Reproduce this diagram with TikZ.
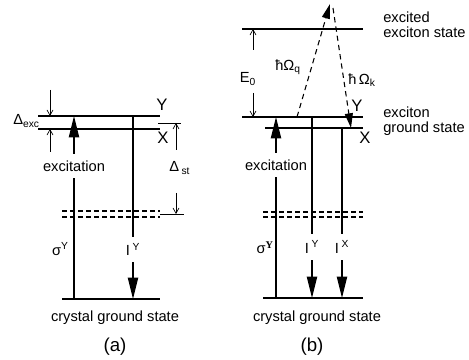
\documentclass[tikz,border=0pt]{standalone}
\usepackage{fontspec}
\setmainfont{Liberation Sans}
\newfontfamily\serifbold{Liberation Serif}
\usetikzlibrary{arrows.meta, positioning}

\begin{document}
\begin{tikzpicture}[x=0.75pt, y=-0.75pt,
    font=\fontsize{11}{11.5}\selectfont,
    level/.style={line width=1pt},
    virtual/.style={line width=0.8pt, dash pattern=on 3.5pt off 2.5pt},
    trans/.style={line width=1.4pt, -{Triangle[length=16pt,width=7.5pt]}},
    gap/.style={fill=white, inner xsep=1pt, inner ysep=5pt},
    marker/.style={line width=0.5pt, -{Straight Barb[length=4pt,width=4.5pt]}},
    tick/.style={line width=0.6pt},
    jump/.style={line width=0.8pt, dash pattern=on 4pt off 3pt, -{Triangle[length=11pt,width=6pt]}},
    lvl/.style={font=\fontsize{12.5}{13}\selectfont, inner sep=0pt}]

\useasboundingbox (0,0) rectangle (469,360);

% ---------- (a) ----------
\coordinate (aYL) at (38,116);   \coordinate (aYR) at (160,116);
\coordinate (aXL) at (38,129);   \coordinate (aXR) at (160,129);
\coordinate (aD1L) at (62,211);  \coordinate (aD1R) at (160,211);
\coordinate (aD2L) at (62,217);  \coordinate (aD2R) at (160,217);
\coordinate (aGL) at (62,299);   \coordinate (aGR) at (160,299);

\draw[level] (aYL) -- (aYR);
\draw[level] (aXL) -- (aXR);
\draw[virtual] (aD1L) -- (aD1R);
\draw[virtual] (aD2L) -- (aD2R);
\draw[level] (aGL) -- (aGR);

\coordinate (aExB) at (74,299);  \coordinate (aExT) at (74,116);
\coordinate (aEmT) at (133,116); \coordinate (aEmB) at (133,299);
\draw[trans] (aExB) -- node[gap, pos=0.727] (aExc) {excitation} (aExT);
\draw[trans] (aEmT) -- node[gap, pos=0.73] (aIY) {I\,\textsuperscript{Y}} (aEmB);

% splittings
\coordinate (aM1) at (50,90);    \coordinate (aM2) at (50,152);
\draw[marker] (aM1) -- (aM1 |- aYL);
\draw[marker] (aM2) -- (aM2 |- aXL);
\coordinate (aT1L) at (158,123); \coordinate (aT1R) at (181,123);
\coordinate (aT2L) at (160,214); \coordinate (aT2R) at (184,214);
\draw[tick] (aT1L) -- (aT1R);
\draw[tick] (aT2L) -- (aT2R);
\coordinate (aS1) at (176,150);  \coordinate (aS2) at (176,193);
\draw[marker] (aS1) -- (aS1 |- aT1L);
\draw[marker] (aS2) -- (aS2 |- aT2L);

\node (aDexc) [anchor=west, inner sep=0pt] at (13,121) {Δ\textsubscript{exc}};
\node (aDst) [anchor=west, inner sep=0pt] at (169,168) {Δ\,\textsubscript{st}};
\node (aYlab) [lvl] at (162,105) {Y};
\node (aXlab) [lvl] at (163,138) {X};
\node (aSig) [anchor=east, inner sep=0pt] at (69,249) {σ\textsuperscript{Y}};
\node (aCry) at (115,318) {crystal ground state};
\node (aCap) [font=\fontsize{14}{14}\selectfont] at (115,347) {(a)};

% ---------- (b) ----------
\coordinate (bEL) at (242,29);   \coordinate (bER) at (363,29);
\coordinate (bYL) at (242,117);  \coordinate (bYR) at (363,117);
\coordinate (bXL) at (265,128);  \coordinate (bXR) at (363,128);
\coordinate (bD1L) at (263,212); \coordinate (bD1R) at (363,212);
\coordinate (bD2L) at (263,217); \coordinate (bD2R) at (363,217);
\coordinate (bGL) at (263,298);  \coordinate (bGR) at (363,298);

\draw[level] (bEL) -- (bER);
\draw[level] (bYL) -- (bYR);
\draw[level] (bXL) -- (bXR);
\draw[virtual] (bD1L) -- (bD1R);
\draw[virtual] (bD2L) -- (bD2R);
\draw[level] (bGL) -- (bGR);

\coordinate (bExB) at (276,298); \coordinate (bExT) at (276,117);
\coordinate (bYT) at (312,117);  \coordinate (bYB) at (312,298);
\coordinate (bXT) at (342,128);  \coordinate (bXB) at (342,298);
\draw[trans] (bExB) -- node[gap, pos=0.735] (bExc) {excitation} (bExT);
\draw[trans] (bYT) -- node[gap, pos=0.718] (bIY) {I\,\textsuperscript{Y}} (bYB);
\draw[trans] (bXT) -- node[gap, pos=0.70] (bIX) {I\,\textsuperscript{X}} (bXB);

% E0 markers
\coordinate (bM1) at (253,50);   \coordinate (bM2) at (253,93);
\draw[marker] (bM1) -- (bM1 |- bEL);
\draw[marker] (bM2) -- (bM2 |- bYL);

% phonon-assisted path
\coordinate (bQ0) at (297,117);  \coordinate (bTop) at (330,4);
\coordinate (bK0) at (333,8);    \coordinate (bK1) at (351,128);
\draw[jump] (bQ0) -- (bTop);
\draw[jump] (bK0) -- (bK1);

\node (bE0) [inner sep=0pt] at (248,79) {E\textsubscript{0}};
\node (bHq) [inner sep=0pt] at (288,67) {ħΩ\textsubscript{q}};
\node (bHk) [inner sep=0pt] at (362,80) {ħ\,Ω\textsubscript{k}};
\node (bYlab) [lvl] at (357,106) {Y};
\node (bXlab) [lvl] at (365,138) {X};
\node (bExcited) [anchor=west, align=left, inner sep=0pt] at (383,25) {excited\\exciton state};
\node (bGround) [anchor=west, align=left, inner sep=0pt] at (383,121) {exciton\\ground state};
\node (bSig) [anchor=east, inner sep=0pt] at (274,248) {σ\textsuperscript{\serifbold\bfseries Y}};
\node (bCry) at (317,318) {crystal ground state};
\node (bCap) [font=\fontsize{14}{14}\selectfont] at (312,347) {(b)};
\end{tikzpicture}
\end{document}
